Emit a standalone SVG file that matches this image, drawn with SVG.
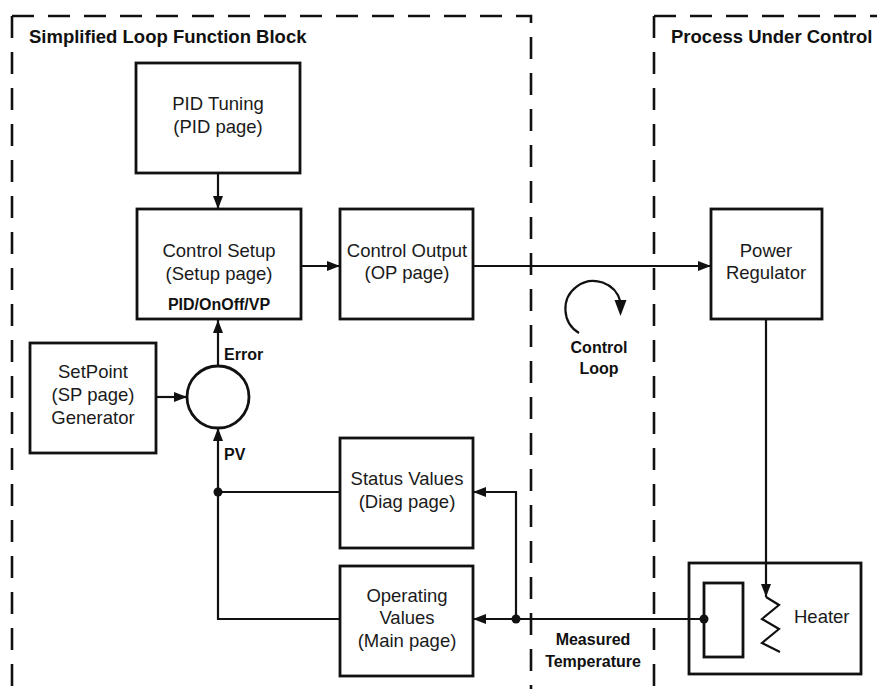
<svg xmlns="http://www.w3.org/2000/svg" width="877" height="689" viewBox="0 0 877 689">
<style>
.bg{fill:#fff}
.box{fill:#fff;stroke:#111;stroke-width:2.8}
.dash{fill:none;stroke:#111;stroke-width:2.6;stroke-dasharray:22 14}
.ln{fill:none;stroke:#111;stroke-width:2.2}
.arr{fill:none;stroke:#111;stroke-width:2.2;marker-end:url(#ah)}
.t{font-family:"Liberation Sans",Arial,sans-serif;font-size:18.5px;fill:#1a1a1a;text-anchor:middle}
.tl{font-family:"Liberation Sans",Arial,sans-serif;font-size:18.5px;fill:#1a1a1a;text-anchor:start}
.h{font-family:"Liberation Sans",Arial,sans-serif;font-size:18.5px;font-weight:bold;fill:#111}
.s{font-family:"Liberation Sans",Arial,sans-serif;font-size:16px;font-weight:bold;fill:#111}
.sc{font-family:"Liberation Sans",Arial,sans-serif;font-size:16px;font-weight:bold;fill:#111;text-anchor:middle}
.dot{fill:#111}
</style>
<defs>
<marker id="ah" markerUnits="userSpaceOnUse" markerWidth="14" markerHeight="11" refX="13" refY="5" orient="auto">
<path d="M0,0 L13,5 L0,10 z" fill="#111"/>
</marker>
</defs>
<rect class="bg" x="0" y="0" width="877" height="689"/>

<g id="frames">
<path class="dash" d="M12,16 L531,16 L531,689"/>
<path class="dash" d="M12,16 L12,689"/>
<path class="dash" d="M654,16 L877,16"/>
<path class="dash" d="M654,16 L654,689"/>
<text class="h" x="29" y="43">Simplified Loop Function Block</text>
<text class="h" x="671" y="43">Process Under Control</text>
</g>

<g id="pid-tuning">
<rect class="box" x="136" y="63" width="164" height="110"/>
<text class="t" x="218" y="110">PID Tuning</text>
<text class="t" x="218" y="133">(PID page)</text>
</g>

<g id="control-setup">
<rect class="box" x="137" y="209" width="164" height="110"/>
<text class="t" x="219" y="257">Control Setup</text>
<text class="t" x="219" y="280">(Setup page)</text>
<text class="sc" x="219" y="310">PID/OnOff/VP</text>
</g>

<g id="control-output">
<rect class="box" x="340" y="209" width="133" height="110"/>
<text class="t" x="407" y="257">Control Output</text>
<text class="t" x="407" y="279">(OP page)</text>
</g>

<g id="power-regulator">
<rect class="box" x="711" y="209" width="111" height="110"/>
<text class="t" x="766" y="257">Power</text>
<text class="t" x="766" y="279">Regulator</text>
</g>

<g id="setpoint">
<rect class="box" x="30" y="343" width="126" height="110"/>
<text class="t" x="93" y="378">SetPoint</text>
<text class="t" x="93" y="401">(SP page)</text>
<text class="t" x="93" y="424">Generator</text>
</g>

<g id="summing">
<circle cx="218" cy="397" r="31" fill="#fff" stroke="#111" stroke-width="2.8"/>
</g>

<g id="status-values">
<rect class="box" x="340" y="438" width="133" height="110"/>
<text class="t" x="407" y="485">Status Values</text>
<text class="t" x="407" y="508">(Diag page)</text>
</g>

<g id="operating-values">
<rect class="box" x="340" y="566" width="133" height="110"/>
<text class="t" x="407" y="602">Operating</text>
<text class="t" x="407" y="624">Values</text>
<text class="t" x="407" y="647">(Main page)</text>
</g>

<g id="heater">
<rect class="box" x="689" y="563" width="172" height="111"/>
<rect class="box" x="704" y="583" width="39" height="74"/>
<polyline class="ln" points="766,597 779,605 762,619 779,629 762,643 780,652"/>
<text class="tl" x="794" y="623">Heater</text>
</g>

<g id="connectors">
<line class="arr" x1="218" y1="173" x2="218" y2="209"/>
<line class="arr" x1="301" y1="266" x2="340" y2="266"/>
<line class="arr" x1="473" y1="266" x2="711" y2="266"/>
<line class="arr" x1="156" y1="397" x2="187" y2="397"/>
<line class="arr" x1="218" y1="366" x2="218" y2="320"/>
<polyline class="arr" points="340,619 218,619 218,428"/>
<line class="ln" x1="340" y1="492" x2="218" y2="492"/>
<circle class="dot" cx="218" cy="492" r="4.5"/>
<line class="arr" x1="704" y1="619" x2="473" y2="619"/>
<circle class="dot" cx="704" cy="619" r="4.5"/>
<polyline class="arr" points="516,619 516,492 473,492"/>
<circle class="dot" cx="516" cy="619" r="4.5"/>
<line class="arr" x1="766" y1="320" x2="766" y2="597"/>
<text class="s" x="224" y="360">Error</text>
<text class="s" x="224" y="460">PV</text>
<text class="sc" x="593" y="645">Measured</text>
<text class="sc" x="593" y="667">Temperature</text>
</g>

<g id="control-loop">
<path class="ln" d="M579,333 A28,28 0 1 1 620.5,302"/>
<path d="M614.5,300 L626.5,300 L620.5,316 z" fill="#111"/>
<text class="sc" x="599" y="353">Control</text>
<text class="sc" x="599" y="374">Loop</text>
</g>
</svg>
